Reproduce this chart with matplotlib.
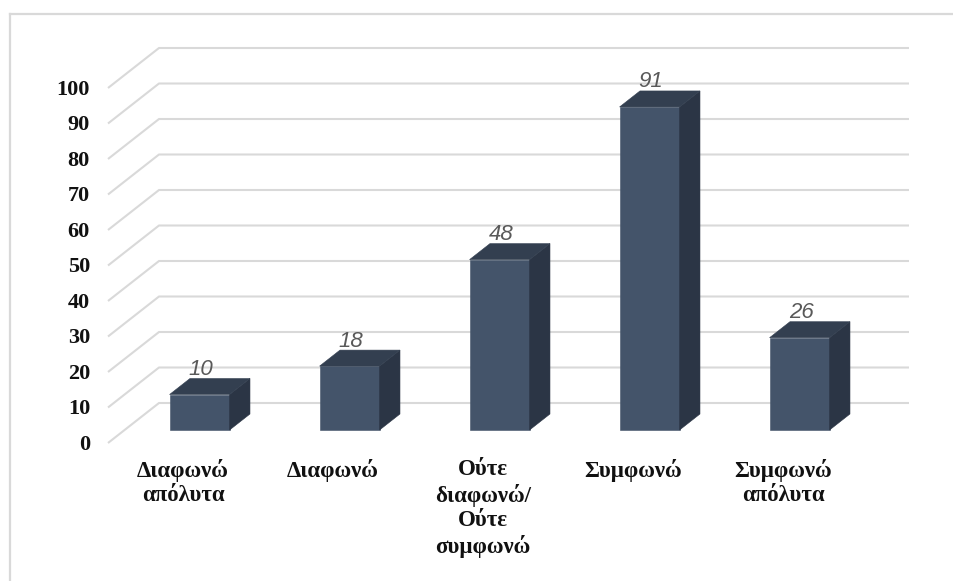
import matplotlib
matplotlib.use("Agg")
import matplotlib.pyplot as plt
from matplotlib.patches import Polygon
from matplotlib.lines import Line2D

categories = ["Διαφωνώ\nαπόλυτα", "Διαφωνώ", "Ούτε\nδιαφωνώ/\nΟύτε\nσυμφωνώ",
              "Συμφωνώ", "Συμφωνώ\nαπόλυτα"]
values = [10, 18, 48, 91, 26]
yticks = list(range(0, 101, 10))

# colours of the pseudo-3D bars
C_FRONT = "#44546A"
C_SIDE = "#2B3545"
C_TOP = "#333F50"
C_GRID = "#D9D9D9"

W, H = 954, 581
fig = plt.figure(figsize=(W / 100, H / 100), dpi=100, facecolor="white")
ax = fig.add_axes([0, 0, 1, 1])

# pixel layout: category 0 / value 0 at the front of the floor
X0, Y0 = 183, 443
PX_CAT, PX_VAL = 150, 3.55
ax.set_xlim(-X0 / PX_CAT, (W - X0) / PX_CAT)
ax.set_ylim((Y0 - H) / PX_VAL, Y0 / PX_VAL)
ax.axis("off")

# depth projection of the full floor (back wall offset)
DX = 51 / PX_CAT
DY = 40 / PX_VAL
n = len(values)
left, right = -0.5, n - 0.5

# gridlines: diagonal on the side wall, horizontal on the back wall
for t in yticks:
    ax.plot([left, left + DX, right + DX], [t, t + DY, t + DY],
            color=C_GRID, linewidth=1.5, solid_capstyle="butt", zorder=1)
    ax.text(left - 0.12, t - 0.5, str(t), ha="right", va="center",
            fontsize=16, fontweight="bold", family="Liberation Serif",
            color="#111111")

# bars sit between 32% and 72% of the depth
D0, D1 = 0.325, 0.725
BW = 0.4
for i, (v, lab) in enumerate(zip(values, categories)):
    xl = i - BW / 2 + D0 * DX
    xr = xl + BW
    yb = D0 * DY
    yt = yb + v
    ddx = (D1 - D0) * DX
    ddy = (D1 - D0) * DY
    front = Polygon([(xl, yb), (xr, yb), (xr, yt), (xl, yt)], closed=True,
                    facecolor=C_FRONT, edgecolor=C_FRONT, linewidth=0.4, zorder=3)
    side = Polygon([(xr, yb), (xr + ddx, yb + ddy), (xr + ddx, yt + ddy), (xr, yt)],
                   closed=True, facecolor=C_SIDE, edgecolor=C_SIDE,
                   linewidth=0.4, zorder=3)
    top = Polygon([(xl, yt), (xr, yt), (xr + ddx, yt + ddy), (xl + ddx, yt + ddy)],
                  closed=True, facecolor=C_TOP, edgecolor=C_TOP,
                  linewidth=0.4, zorder=3)
    for p in (front, side, top):
        ax.add_patch(p)
    ax.text((xl + xr) / 2 + 0.01, yt + ddy + 1.0, f"{v}", ha="center",
            va="baseline", fontsize=16, style="italic",
            family="Liberation Sans", color="#595959", zorder=4)
    ax.text(i, -4.4, lab, ha="center", va="top", fontsize=16.5,
            fontweight="bold", family="Liberation Serif", color="#111111",
            linespacing=1.22)

# chart frame (top and left edges)
fig.add_artist(Line2D([10.5 / W, 1], [1 - 13.5 / H, 1 - 13.5 / H],
                      color=C_GRID, linewidth=1.6))
fig.add_artist(Line2D([10.5 / W, 10.5 / W], [0, 1 - 13.5 / H],
                      color=C_GRID, linewidth=1.6))

fig.savefig("out.png", dpi=100, facecolor="white")
